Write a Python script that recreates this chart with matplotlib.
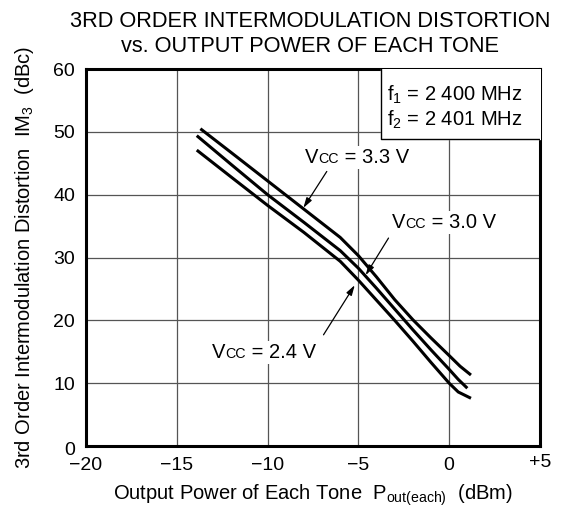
import numpy as np
import matplotlib.pyplot as plt
import matplotlib.transforms as mtransforms
from matplotlib.offsetbox import TextArea, HPacker, AnnotationBbox

plt.rcParams['font.family'] = ['Liberation Sans', 'DejaVu Sans']
plt.rcParams['mathtext.fontset'] = 'custom'
plt.rcParams['mathtext.rm'] = 'Liberation Sans'
plt.rcParams['mathtext.it'] = 'Liberation Sans'
plt.rcParams['mathtext.default'] = 'regular'

# IM3 (dBc) vs output power of each tone (dBm)
pout_33 = [-13.7, -12.0, -10.0, -8.0, -6.0, -5.0, -4.0, -3.0, -2.0, -1.0, 0.0, 0.6, 1.2]
im3_33 = [50.5, 46.7, 42.2, 37.7, 33.2, 30.3, 26.9, 23.3, 20.1, 17.2, 14.4, 12.7, 11.3]

pout_30 = [-13.9, -12.0, -10.0, -8.0, -6.0, -5.0, -4.0, -3.0, -2.0, -1.0, 0.0, 0.5, 1.0]
im3_30 = [49.4, 44.8, 40.0, 35.6, 31.1, 28.3, 25.1, 21.8, 18.5, 15.3, 12.2, 10.6, 9.2]

pout_24 = [-13.9, -12.0, -10.0, -8.0, -6.0, -5.0, -4.0, -3.0, -2.0, -1.0, 0.0, 0.5, 1.2]
im3_24 = [47.1, 42.8, 38.3, 34.0, 29.4, 26.4, 23.2, 20.0, 16.7, 13.3, 10.0, 8.6, 7.6]

xticks = [-20, -15, -10, -5, 0, 5]
xticklabels = ['\u221220', '\u221215', '\u221210', '\u22125', '0', '+5']
yticks = [0, 10, 20, 30, 40, 50, 60]

fig = plt.figure(figsize=(5.65, 5.08), dpi=100)
ax = fig.add_axes([0.1522, 0.1220, 0.8035, 0.7421])

ax.set_xlim(-20, 5)
ax.set_ylim(0, 60)
ax.set_xticks(xticks)
ax.set_xticklabels(xticklabels)
ax.set_yticks(yticks)
ax.tick_params(length=0, labelsize=14, pad=8)
ax.grid(True, color='#555555', linewidth=0.9)
ax.set_axisbelow(True)
for s in ax.spines.values():
    s.set_linewidth(2.2)

# "+5" sits a little higher, the bottom "0" a little lower
lbl = ax.get_xticklabels()[-1]
lbl.set_transform(lbl.get_transform() + mtransforms.ScaledTranslation(0, 3 / 100, fig.dpi_scale_trans))
lbl = ax.get_yticklabels()[0]
lbl.set_transform(lbl.get_transform() + mtransforms.ScaledTranslation(0, -2 / 100, fig.dpi_scale_trans))

for x, y in [(pout_33, im3_33), (pout_30, im3_30), (pout_24, im3_24)]:
    ax.plot(x, y, color='black', linewidth=2.2, solid_capstyle='butt')

# frequency box in the upper right corner
ax.fill_between([-3.75, 5], 48.9, 60, color='white', zorder=3)
ax.plot([-3.75, -3.75, 5], [60, 48.9, 48.9], color='black', linewidth=1.0, zorder=4)
ax.text(-3.42, 55.9, 'f$_1$ = 2 400 MHz', fontsize=14.5, va='center', zorder=5)
ax.text(-3.42, 51.9, 'f$_2$ = 2 401 MHz', fontsize=14.5, va='center', zorder=5)


def vcc_label(x, y, value):
    parts = [TextArea('V', textprops=dict(fontsize=14.5)),
             TextArea('CC', textprops=dict(fontsize=10.3)),
             TextArea(' = ' + value, textprops=dict(fontsize=14.5))]
    box = HPacker(children=parts, align='baseline', pad=0, sep=0)
    ab = AnnotationBbox(box, (x, y), box_alignment=(0, 0.5), frameon=True,
                        pad=0.15, bboxprops=dict(facecolor='white', edgecolor='none'),
                        zorder=4)
    ax.add_artist(ab)


arrow = dict(arrowstyle='-|>,head_length=0.6,head_width=0.18', color='black',
             linewidth=0.9, shrinkA=0, shrinkB=0)

vcc_label(-7.93, 45.9, '3.3 V')
ax.annotate('', xy=(-8.03, 37.9), xytext=(-6.74, 43.7), arrowprops=arrow, zorder=5)

vcc_label(-3.16, 35.6, '3.0 V')
ax.annotate('', xy=(-4.6, 27.2), xytext=(-3.34, 33.1), arrowprops=arrow, zorder=5)

vcc_label(-13.07, 14.9, '2.4 V')
ax.annotate('', xy=(-5.2, 25.6), xytext=(-6.92, 17.7), arrowprops=arrow, zorder=5)

ax.set_xlabel('Output Power of Each Tone  P$_{out(each)}$  (dBm)', fontsize=14.5)
ax.xaxis.set_label_coords(0.5, -0.098)
ax.set_ylabel('3rd Order Intermodulation Distortion  IM$_3$  (dBc)', fontsize=14.5)
ax.yaxis.set_label_coords(-0.11, 0.5)

fig.text(0.549, 0.978, '3RD ORDER INTERMODULATION DISTORTION\nvs. OUTPUT POWER OF EACH TONE',
         ha='center', va='top', fontsize=15.7, linespacing=1.25)

fig.savefig('out.png', dpi=100)
